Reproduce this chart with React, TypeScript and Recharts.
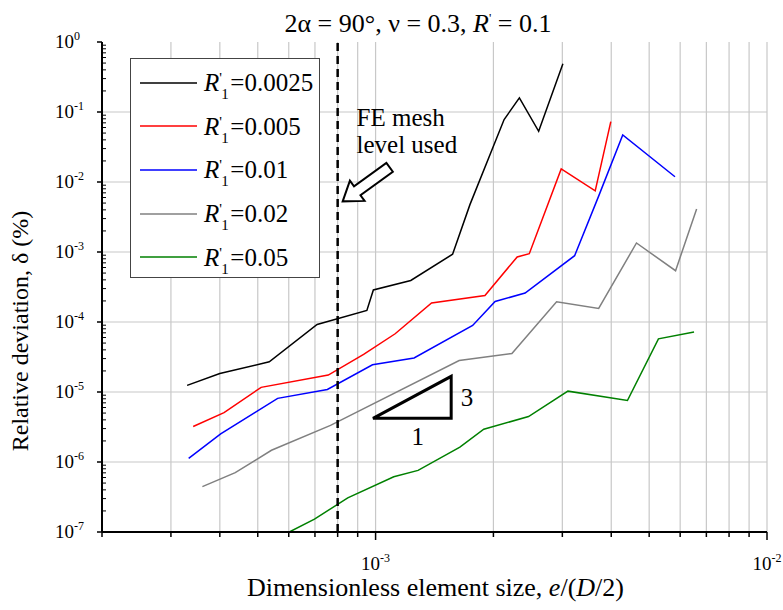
import React from "react";
import {
  LineChart,
  Line,
  XAxis,
  YAxis,
  CartesianGrid,
  ReferenceLine,
  ReferenceDot,
} from "recharts";

const FONT = "'Liberation Serif', 'Times New Roman', serif";

// dimensionless element size e/(D/2) and relative deviation (%) for each R'1
const size0025 = [3.3e-4, 4.0e-4, 5.35e-4, 7.09e-4, 9.5e-4, 9.87e-4, 1.23e-3, 1.573e-3, 1.742e-3, 2.13e-3, 2.33e-3, 2.61e-3, 3.01e-3];
const dev0025 = [1.245e-5, 1.84e-5, 2.7e-5, 9.22e-5, 1.46e-4, 2.87e-4, 3.92e-4, 9.3e-4, 4.75e-3, 7.8e-2, 0.159, 0.053, 0.488];

const size005 = [3.42e-4, 4.1e-4, 5.1e-4, 7.57e-4, 9.32e-4, 1.122e-3, 1.39e-3, 1.903e-3, 2.3e-3, 2.47e-3, 2.98e-3, 3.64e-3, 3.99e-3];
const dev005 = [3.21e-6, 5.08e-6, 1.165e-5, 1.747e-5, 3.45e-5, 6.79e-5, 1.87e-4, 2.39e-4, 8.51e-4, 9.45e-4, 1.54e-2, 7.48e-3, 7.3e-2];

const size001 = [3.33e-4, 4.02e-4, 5.62e-4, 7.53e-4, 9.82e-4, 1.254e-3, 1.77e-3, 2.02e-3, 2.41e-3, 3.225e-3, 3.71e-3, 4.28e-3, 5.82e-3];
const dev001 = [1.13e-6, 2.52e-6, 8.11e-6, 1.087e-5, 2.45e-5, 3.06e-5, 8.91e-5, 1.965e-4, 2.59e-4, 8.85e-4, 6.18e-3, 4.71e-2, 1.19e-2];

const size002 = [3.61e-4, 4.38e-4, 5.42e-4, 7.67e-4, 1.635e-3, 2.23e-3, 2.9e-3, 3.715e-3, 4.64e-3, 5.84e-3, 6.61e-3];
const dev002 = [4.44e-7, 7.05e-7, 1.47e-6, 3.34e-6, 2.82e-5, 3.55e-5, 1.945e-4, 1.56e-4, 1.345e-3, 5.4e-4, 4.12e-3];

const size005b = [6.02e-4, 6.98e-4, 8.49e-4, 1.113e-3, 1.284e-3, 1.642e-3, 1.89e-3, 2.459e-3, 3.1e-3, 4.4e-3, 5.28e-3, 6.51e-3];
const dev005b = [1.0e-7, 1.525e-7, 3.08e-7, 6.16e-7, 7.58e-7, 1.63e-6, 2.94e-6, 4.46e-6, 1.028e-5, 7.55e-6, 5.75e-5, 7.18e-5];

const radii = ["0.0025", "0.005", "0.01", "0.02", "0.05"];
const colors = ["#000000", "#ff0000", "#0000ff", "#808080", "#008000"];
const sizes = [size0025, size005, size001, size002, size005b];
const devs = [dev0025, dev005, dev001, dev002, dev005b];

const xTicks = [2e-4, 3e-4, 4e-4, 5e-4, 6e-4, 7e-4, 8e-4, 9e-4, 1e-3, 2e-3, 3e-3, 4e-3, 5e-3, 6e-3, 7e-3, 8e-3, 9e-3, 1e-2];
const yDecades = [1e-7, 1e-6, 1e-5, 1e-4, 1e-3, 1e-2, 1e-1, 1];
const minorMantissas = [2, 3, 4, 5, 6, 7, 8, 9];

const meshLevelUsed = 8e-4;
// slope-3 triangle: hypotenuse from lower-left to upper-right corner
const slopeTriangle = [
  { x: 9.85e-4, y: 4.2e-6 },
  { x: 1.56e-3, y: 1.672e-5 },
];
// block arrow from tail to tip
const arrowSegment = [
  { x: 1.086e-3, y: 0.0162 },
  { x: 8.24e-4, y: 5.29e-3 },
];

const series = radii.map((r, i) => ({
  name: r,
  color: colors[i],
  data: sizes[i].map((x, j) => ({ x, y: devs[i][j] })),
}));

const yTicks = yDecades.flatMap((d) =>
  d < 1 ? [d, ...minorMantissas.map((m) => m * d)] : [d]
);

const isDecade = (v: number) =>
  Math.abs(Math.log10(v) - Math.round(Math.log10(v))) < 1e-9;

function XTick({ x, y, payload }: any) {
  const v = payload.value;
  const major = isDecade(v);
  const e = Math.round(Math.log10(v));
  return (
    <g>
      <line x1={x} x2={x} y1={y} y2={y + (major ? 8 : 5)} stroke="#000" strokeWidth={1.5} />
      {major && (
        <text x={x} y={y + 38} textAnchor="middle" fontFamily={FONT} fontSize={19} fill="#000">
          10<tspan dy={-8} fontSize={12}>{e}</tspan>
        </text>
      )}
    </g>
  );
}

function YTickLeft({ x, y, payload }: any) {
  const v = payload.value;
  const major = isDecade(v);
  const e = Math.round(Math.log10(v));
  if (!major) {
    return <line x1={x} x2={x + 4} y1={y} y2={y} stroke="#000" strokeWidth={1} />;
  }
  return (
    <g>
      <line x1={x - 5} x2={x} y1={y} y2={y} stroke="#000" strokeWidth={1.5} />
      <text x={x - 28} y={y + 6} textAnchor="end" fontFamily={FONT} fontSize={19} fill="#000">
        10
      </text>
      <text x={x - 28} y={y - 2} textAnchor="start" fontFamily={FONT} fontSize={12} fill="#000">
        {e}
      </text>
    </g>
  );
}

function YTickRight({ x, y, payload }: any) {
  const major = isDecade(payload.value);
  return <line x1={x - (major ? 6 : 4)} x2={x} y1={y} y2={y} stroke="#000" strokeWidth={1} />;
}

function XTitle({ viewBox }: any) {
  const cx = viewBox.x + viewBox.width / 2 + 1;
  return (
    <text x={cx} y={viewBox.y + 64} textAnchor="middle" fontFamily={FONT} fontSize={26} fill="#000">
      Dimensionless element size, <tspan fontStyle="italic">e</tspan>/(<tspan fontStyle="italic">D</tspan>/2)
    </text>
  );
}

function YTitle({ viewBox }: any) {
  const x = viewBox.x + 28;
  const y = viewBox.y + 289;
  return (
    <text x={x} y={y} transform={`rotate(-90 ${x} ${y})`} textAnchor="middle" fontFamily={FONT} fontSize={24} fill="#000">
      Relative deviation, δ (%)
    </text>
  );
}

function Triangle({ x1, y1, x2, y2 }: any) {
  return (
    <polygon
      points={`${x1},${y1} ${x2},${y2} ${x2},${y1}`}
      fill="none"
      stroke="#000"
      strokeWidth={3}
      strokeLinejoin="miter"
    />
  );
}

function BlockArrow({ x1, y1, x2, y2 }: any) {
  const len = Math.hypot(x1 - x2, y1 - y2);
  const ang = (Math.atan2(y1 - y2, x1 - x2) * 180) / Math.PI;
  const hl = 18;
  const hw = 12.5;
  const sw = 5.5;
  const pts = [
    [0, 0],
    [hl, -hw],
    [hl, -sw],
    [len, -sw],
    [len, sw],
    [hl, sw],
    [hl, hw],
  ]
    .map((p) => p.join(","))
    .join(" ");
  return (
    <polygon
      points={pts}
      transform={`translate(${x2} ${y2}) rotate(${ang})`}
      fill="#fff"
      stroke="#000"
      strokeWidth={2}
    />
  );
}

const MeshNote = ({ cx, cy }: any) => (
  <text x={cx} y={cy} fontFamily={FONT} fontSize={25} fill="#000">
    <tspan x={cx}>FE mesh</tspan>
    <tspan x={cx} dy={27}>level used</tspan>
  </text>
);

const plainLabel = (s: string) => ({ cx, cy }: any) => (
  <text x={cx} y={cy} textAnchor="middle" fontFamily={FONT} fontSize={25} fill="#000">
    {s}
  </text>
);

// R'1 with the prime stacked over the subscript
function RLabel({ value }: { value: string }) {
  return (
    <span>
      <i>R</i>
      <span
        style={{
          display: "inline-block",
          position: "relative",
          width: 11,
          height: 25,
          verticalAlign: "top",
        }}
      >
        <span style={{ position: "absolute", left: 0, top: 1, fontSize: 15, lineHeight: "15px" }}>'</span>
        <span style={{ position: "absolute", left: 2, top: 17, fontSize: 15, lineHeight: "15px" }}>1</span>
      </span>
      ={value}
    </span>
  );
}

function LegendBox() {
  return (
    <div
      style={{
        position: "absolute",
        left: 130,
        top: 58,
        width: 188,
        height: 218,
        border: "1.5px solid #444",
        background: "#fff",
        fontFamily: FONT,
        fontSize: 25,
        color: "#000",
      }}
    >
      {series.map((s, i) => {
        const cy = 23.5 + i * 43.7;
        return (
          <div key={s.name}>
            <svg
              width={60}
              height={6}
              style={{ position: "absolute", left: 8, top: cy - 3 }}
            >
              <line x1={1} x2={58} y1={3} y2={3} stroke={s.color} strokeWidth={1.5} />
            </svg>
            <div
              style={{
                position: "absolute",
                left: 73,
                top: cy - 12.5,
                height: 25,
                lineHeight: "25px",
                whiteSpace: "nowrap",
              }}
            >
              <RLabel value={s.name} />
            </div>
          </div>
        );
      })}
    </div>
  );
}

export default function App() {
  return (
    <div style={{ position: "absolute", left: 0, top: 0, width: 783, height: 610, background: "#fff" }}>
      <div
        style={{
          position: "absolute",
          left: 418,
          top: 3,
          transform: "translateX(-50%)",
          fontFamily: FONT,
          fontSize: 26,
          lineHeight: "30px",
          whiteSpace: "nowrap",
        }}
      >
        2α = 90°, ν = 0.3, <i>R</i>
        <sup style={{ fontSize: 13 }}>'</sup> = 0.1
      </div>
      <LineChart width={783} height={610} margin={{ top: 42, right: 16, left: 0, bottom: 0 }}>
        <CartesianGrid vertical horizontal={false} stroke="#c8c8c8" strokeWidth={1.2} />
        {yDecades.slice(1, -1).map((d) => (
          <ReferenceLine key={d} y={d} yAxisId="dev" stroke="#c8c8c8" strokeWidth={1.2} />
        ))}
        <XAxis
          dataKey="x"
          type="number"
          scale="log"
          domain={[2e-4, 1e-2]}
          allowDataOverflow
          ticks={xTicks}
          interval={0}
          tick={<XTick />}
          tickLine={false}
          tickSize={0}
          tickMargin={0}
          height={78}
          axisLine={{ stroke: "#000", strokeWidth: 2 }}
          label={{ content: <XTitle /> }}
        />
        <XAxis
          xAxisId="top"
          orientation="top"
          dataKey="x"
          type="number"
          scale="log"
          domain={[2e-4, 1e-2]}
          allowDataOverflow
          tick={false}
          tickLine={false}
          height={0}
          axisLine={{ stroke: "#000", strokeWidth: 2 }}
        />
        <YAxis
          yAxisId="dev"
          dataKey="y"
          type="number"
          scale="log"
          domain={[1e-7, 1]}
          allowDataOverflow
          ticks={yTicks}
          interval={0}
          tick={<YTickLeft />}
          tickLine={false}
          tickSize={0}
          tickMargin={0}
          width={102}
          axisLine={{ stroke: "#000", strokeWidth: 2 }}
          label={{ content: <YTitle /> }}
        />
        <YAxis
          yAxisId="right"
          orientation="right"
          type="number"
          scale="log"
          domain={[1e-7, 1]}
          allowDataOverflow
          ticks={yTicks}
          interval={0}
          tick={<YTickRight />}
          tickLine={false}
          tickSize={0}
          tickMargin={0}
          width={0}
          axisLine={{ stroke: "#000", strokeWidth: 2 }}
        />
        {series.map((s) => (
          <Line
            key={s.name}
            yAxisId="dev"
            data={s.data}
            dataKey="y"
            name={s.name}
            type="linear"
            stroke={s.color}
            strokeWidth={1.5}
            dot={false}
            activeDot={false}
            isAnimationActive={false}
          />
        ))}
        <ReferenceLine
          x={meshLevelUsed}
          yAxisId="dev"
          stroke="#000"
          strokeWidth={2.5}
          strokeDasharray="8 5"
        />
        <ReferenceLine yAxisId="dev" segment={slopeTriangle} shape={<Triangle />} />
        <ReferenceLine yAxisId="dev" segment={arrowSegment} shape={<BlockArrow />} />
        <ReferenceDot yAxisId="dev" x={8.94e-4} y={0.064} r={0} shape={<MeshNote />} />
        <ReferenceDot yAxisId="dev" x={1.711e-3} y={6.34e-6} r={0} shape={plainLabel("3")} />
        <ReferenceDot yAxisId="dev" x={1.282e-3} y={1.754e-6} r={0} shape={plainLabel("1")} />
      </LineChart>
      <LegendBox />
    </div>
  );
}
